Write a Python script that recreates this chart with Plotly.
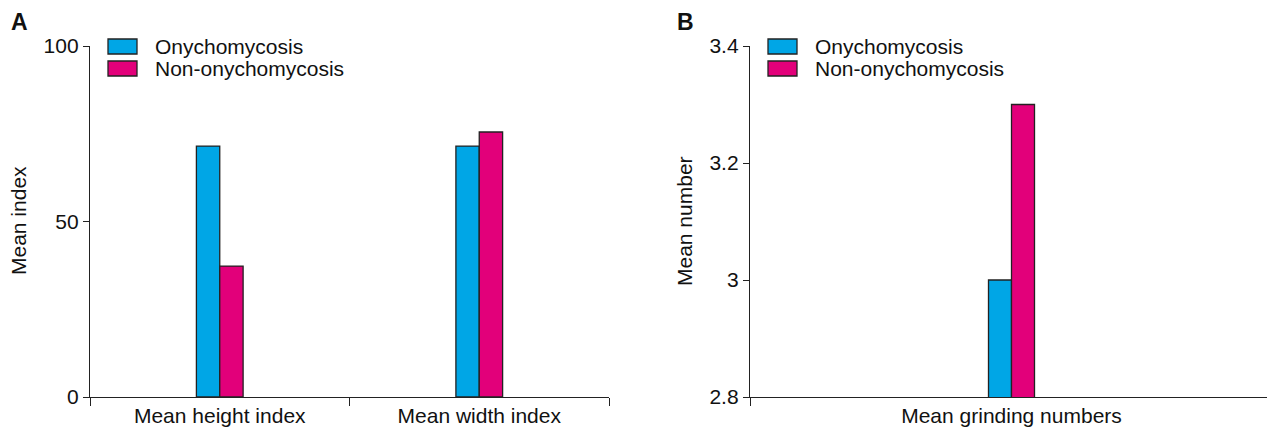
import plotly.graph_objects as go

# Data
cats_a = ["Mean height index", "Mean width index"]
ony_a = [71.5, 71.5]
non_a = [37.3, 75.5]

cats_b = ["Mean grinding numbers"]
ony_b = [3.0]
non_b = [3.3]

series_names = ["Onychomycosis", "Non-onychomycosis"]
colors = ["#00A6E6", "#E2007A"]

FONT = "Liberation Sans, Arial, sans-serif"
TXT = "#111111"
EDGE = "#222222"
W, H = 1275, 432
FS = 21
OFF = 8  # page body margin offset


def px(x):
    return (x - OFF) / W


def py(y):
    return 1 - (y - OFF) / H


fig = go.Figure()
line = dict(color=EDGE, width=1.3)

fig.add_trace(go.Bar(x=cats_a, y=ony_a, name=series_names[0], marker=dict(color=colors[0], line=line),
                     xaxis="x", yaxis="y", showlegend=False))
fig.add_trace(go.Bar(x=cats_a, y=non_a, name=series_names[1], marker=dict(color=colors[1], line=line),
                     xaxis="x", yaxis="y", showlegend=False))
fig.add_trace(go.Bar(x=cats_b, y=ony_b, name=series_names[0], marker=dict(color=colors[0], line=line),
                     xaxis="x2", yaxis="y2", showlegend=False, width=0.044, offset=-0.044))
fig.add_trace(go.Bar(x=cats_b, y=non_b, name=series_names[1], marker=dict(color=colors[1], line=line),
                     xaxis="x2", yaxis="y2", showlegend=False, width=0.044, offset=0.0))

ydom = [py(397), py(46)]
axcommon = dict(showline=True, linecolor=EDGE, linewidth=1.3, ticks="outside", automargin=False,
                tickcolor=EDGE, tickwidth=1.3, showgrid=False, zeroline=False,
                tickfont=dict(size=FS, color=TXT, family=FONT))

# Legend (drawn as swatches + labels, one per panel)
shapes = []
annotations = []
for x0 in (108, 768):
    for i, (nm, col) in enumerate(zip(series_names, colors)):
        y0 = 39 + i * 22
        shapes.append(dict(type="rect", xref="paper", yref="paper",
                           x0=px(x0), x1=px(x0 + 29), y0=py(y0), y1=py(y0 + 15),
                           fillcolor=col, line=dict(color=EDGE, width=1.3)))
        annotations.append(dict(text=nm, x=px(x0 + 45), y=py(y0 + 7.5), xref="paper", yref="paper",
                                showarrow=False, xanchor="left", yanchor="middle",
                                font=dict(size=FS, family=FONT, color=TXT)))

for txt, xp in (("<b>A</b>", 9), ("<b>B</b>", 675)):
    annotations.append(dict(text=txt, x=px(xp), y=py(22), xref="paper", yref="paper", showarrow=False,
                            xanchor="left", yanchor="middle", font=dict(size=23, family=FONT, color=TXT)))

for txt, xp in (("Mean index", 18), ("Mean number", 684)):
    annotations.append(dict(text=txt, x=px(xp), y=py(221), xref="paper", yref="paper", showarrow=False,
                            textangle=-90, xanchor="center", yanchor="middle",
                            font=dict(size=FS, family=FONT, color=TXT)))

fig.update_layout(
    width=W, height=H, margin=dict(l=0, r=0, t=0, b=0, autoexpand=False),
    paper_bgcolor="white", plot_bgcolor="white",
    font=dict(family=FONT, size=FS, color=TXT),
    barmode="group", bargap=0.82, bargroupgap=0, showlegend=False,
    xaxis=dict(domain=[px(90), px(609)], anchor="y", range=[-0.5, 1.5], tickson="boundaries",
               ticklen=8, **axcommon),
    yaxis=dict(domain=ydom, anchor="x", range=[0, 100], tickvals=[0, 50, 100], ticklen=6, **axcommon),
    xaxis2=dict(domain=[px(750), px(1273)], anchor="y2", range=[-0.5, 0.5], tickson="boundaries",
                ticklen=8, **axcommon),
    yaxis2=dict(domain=ydom, anchor="x2", range=[2.8, 3.4], tickvals=[2.8, 3.0, 3.2, 3.4],
                ticktext=["2.8", "3", "3.2", "3.4"], ticklen=6, **axcommon),
    shapes=shapes,
    annotations=annotations,
)

fig.write_html("out.html")
